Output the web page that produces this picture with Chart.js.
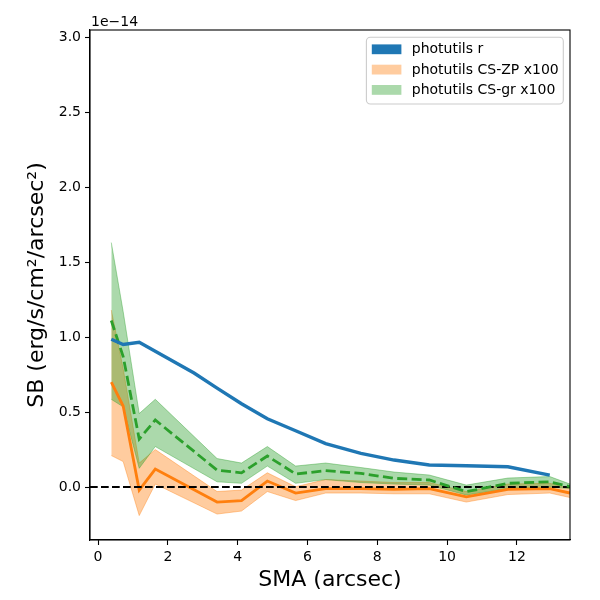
<!DOCTYPE html>
<html>
<head>
<meta charset="utf-8">
<script src="https://cdn.jsdelivr.net/npm/chart.js@4.4.1/dist/chart.umd.min.js"></script>
<style>
  body { margin: 0; background: #fff; }
  #wrap { width: 600px; height: 600px; }
</style>
</head>
<body>
<div id="wrap"><canvas id="myChart" width="600" height="600"></canvas></div>
<script>
// photutils r (units of 1e-14)
const smaR = [0.38, 0.72, 1.18, 2.75, 3.41, 4.11, 4.85, 5.66, 6.52, 7.53, 8.48, 9.49, 10.55, 11.74, 12.94];
const sbR = [0.985, 0.95, 0.965, 0.76, 0.66, 0.555, 0.455, 0.375, 0.29, 0.225, 0.18, 0.147, 0.142, 0.135, 0.08];

// CS profiles x100 (units of 1e-14)
const smaCS = [0.38, 0.72, 1.18, 1.64, 3.41, 4.11, 4.85, 5.66, 6.52, 7.53, 8.48, 9.49, 10.55, 11.74, 12.94, 13.52];
const sbZP = [0.70, 0.54, -0.02, 0.12, -0.10, -0.09, 0.04, -0.04, -0.01, -0.01, -0.015, -0.01, -0.065, -0.015, -0.01, -0.04];
const sbZPHi = [1.18, 0.79, 0.16, 0.25, -0.03, -0.02, 0.095, 0.002, 0.05, 0.04, 0.03, 0.03, -0.03, 0.02, 0.025, -0.01];
const sbZPLo = [0.21, 0.17, -0.19, 0.02, -0.18, -0.16, -0.03, -0.09, -0.04, -0.04, -0.045, -0.045, -0.10, -0.05, -0.04, -0.07];
const sbGR = [1.11, 0.87, 0.32, 0.447, 0.113, 0.095, 0.207, 0.087, 0.109, 0.091, 0.058, 0.047, -0.031, 0.025, 0.035, 0.002];
const sbGRHi = [1.63, 1.17, 0.49, 0.585, 0.19, 0.16, 0.27, 0.14, 0.16, 0.13, 0.10, 0.08, 0.013, 0.06, 0.07, 0.02];
const sbGRLo = [0.585, 0.535, 0.125, 0.27, 0.035, 0.025, 0.14, 0.025, 0.05, 0.03, 0.02, 0.013, -0.053, -0.01, 0.0, -0.01];

const xLim = [-0.23, 13.52];
const yLim = [-0.353, 3.047];
const xTicks = [0, 2, 4, 6, 8, 10, 12];
const yTicks = [0.0, 0.5, 1.0, 1.5, 2.0, 2.5, 3.0];

const labels = ['photutils r', 'photutils CS-ZP x100', 'photutils CS-gr x100'];

const BLUE = '#1f77b4';
const ORANGE = '#ff7f0e';
const GREEN = '#2ca02c';
const ORANGE_A = 'rgba(255,127,14,0.4)';
const GREEN_A = 'rgba(44,160,44,0.4)';
const FONT = "'DejaVu Sans', sans-serif";

const pts = (xs, ys) => xs.map((x, i) => ({ x: x, y: ys[i] }));

const datasets = [
  { label: labels[0], data: pts(smaR, sbR), borderColor: BLUE, backgroundColor: BLUE, borderWidth: 3.4, order: 1 },
  { label: '', data: pts(smaCS, sbGR), borderColor: GREEN, borderWidth: 2.8, borderDash: [10, 4.4], order: 2 },
  { label: '', data: pts(xLim, [0, 0]), borderColor: '#000', borderWidth: 2, borderDash: [7.7, 3.3], order: 3 },
  { label: '', data: pts(smaCS, sbZP), borderColor: ORANGE, borderWidth: 2.8, order: 4 },
  { label: labels[2], data: pts(smaCS, sbGRHi), borderColor: GREEN_A, backgroundColor: GREEN_A, borderWidth: 1, fill: { target: 5 }, order: 5 },
  { label: '', data: pts(smaCS, sbGRLo), borderColor: GREEN_A, borderWidth: 1, order: 6 },
  { label: labels[1], data: pts(smaCS, sbZPHi), borderColor: ORANGE_A, backgroundColor: ORANGE_A, borderWidth: 1, fill: { target: 7 }, order: 7 },
  { label: '', data: pts(smaCS, sbZPLo), borderColor: ORANGE_A, borderWidth: 1, order: 8 },
];

/**
 * frame, offset text, legend box
 */
const decoPlugin = {
  id: 'deco',
  afterDraw(chart) {
    const ctx = chart.ctx;
    const a = chart.chartArea;
    ctx.save();
    // spines
    ctx.strokeStyle = '#000';
    ctx.lineWidth = 1.1;
    ctx.strokeRect(a.left, a.top, a.right - a.left, a.bottom - a.top);

    // offset text
    ctx.fillStyle = '#000';
    ctx.font = '14px ' + FONT;
    ctx.textAlign = 'left';
    ctx.textBaseline = 'alphabetic';
    ctx.fillText('1e\u221214', a.left + 1, a.top - 4);

    // legend
    const items = [
      { text: labels[0], color: BLUE },
      { text: labels[1], color: ORANGE_A },
      { text: labels[2], color: GREEN_A },
    ];
    let tw = 0;
    items.forEach((it) => { tw = Math.max(tw, ctx.measureText(it.text).width); });
    const w = tw + 50;
    const h = 66.7;
    const x0 = a.right - 6.7 - w;
    const y0 = a.top + 7.3;
    ctx.beginPath();
    ctx.roundRect(x0, y0, w, h, 4);
    ctx.fillStyle = 'rgba(255,255,255,0.8)';
    ctx.fill();
    ctx.strokeStyle = '#cccccc';
    ctx.lineWidth = 1.1;
    ctx.stroke();
    ctx.textBaseline = 'middle';
    items.forEach((it, i) => {
      const cy = y0 + 12 + i * 20.3;
      ctx.fillStyle = it.color;
      ctx.fillRect(x0 + 5.4, cy - 4.9, 29.6, 9.8);
      ctx.fillStyle = '#000';
      ctx.fillText(it.text, x0 + 45.4, cy + 0.5);
    });
    ctx.restore();
  },
};

const config = {
  type: 'line',
  data: { datasets: datasets },
  options: {
    responsive: false,
    animation: false,
    devicePixelRatio: 1,
    layout: { padding: { top: 30, right: 30, left: 0, bottom: 0 } },
    elements: { point: { radius: 0 }, line: { tension: 0, fill: false } },
    plugins: {
      legend: { display: false },
      tooltip: { enabled: false },
      filler: { propagate: false },
    },
    scales: {
      x: {
        type: 'linear',
        min: xLim[0],
        max: xLim[1],
        afterFit: (s) => { s.height = 60; },
        afterBuildTicks: (s) => { s.ticks = xTicks.map((v) => ({ value: v })); },
        ticks: { color: '#000', font: { family: FONT, size: 14 }, padding: 4, maxRotation: 0, callback: (v) => String(v) },
        grid: { drawOnChartArea: false, color: '#000', tickLength: 5, tickWidth: 1.1 },
        border: { color: '#000', width: 1.1 },
        title: { display: true, text: 'SMA (arcsec)', color: '#000', font: { family: FONT, size: 22 }, padding: { top: 2, bottom: 7 } },
      },
      y: {
        type: 'linear',
        min: yLim[0],
        max: yLim[1],
        afterFit: (s) => { s.width = 90; },
        afterBuildTicks: (s) => { s.ticks = yTicks.map((v) => ({ value: v })); },
        ticks: { color: '#000', font: { family: FONT, size: 14 }, padding: 4, callback: (v) => v.toFixed(1) },
        grid: { drawOnChartArea: false, color: '#000', tickLength: 5, tickWidth: 1.1 },
        border: { color: '#000', width: 1.1 },
        title: { display: true, text: 'SB (erg/s/cm\u00b2/arcsec\u00b2)', color: '#000', font: { family: FONT, size: 22 }, padding: { top: 24, bottom: 4 } },
      },
    },
  },
  plugins: [decoPlugin],
};

const myChart = new Chart(document.getElementById('myChart'), config);
</script>
</body>
</html>
